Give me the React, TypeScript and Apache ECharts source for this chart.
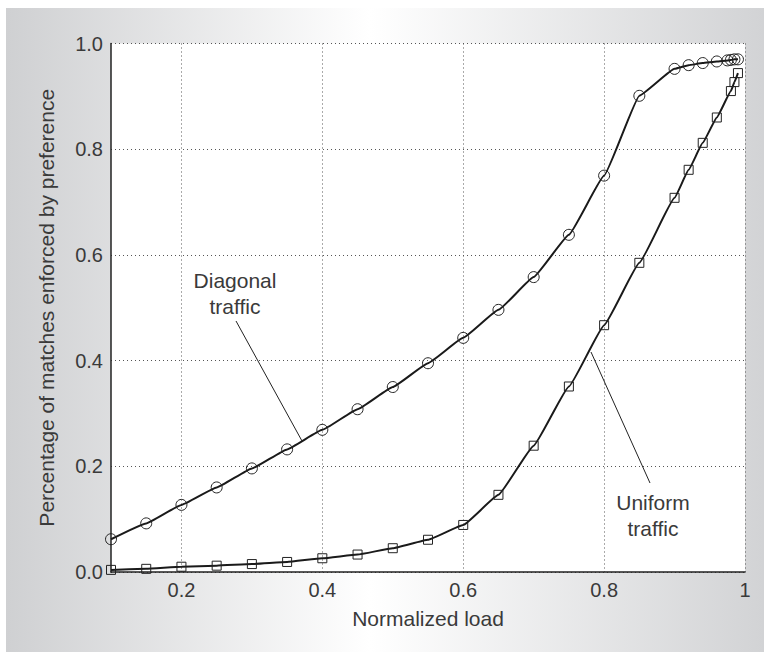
import React, { useEffect, useRef } from "react";
import * as echarts from "echarts";

const diagLoads = [0.1, 0.15, 0.2, 0.25, 0.3, 0.35, 0.4, 0.45, 0.5, 0.55, 0.6, 0.65, 0.7, 0.75, 0.8, 0.85, 0.9, 0.92, 0.94, 0.96, 0.975, 0.98, 0.985, 0.99];
const diagValues = [0.062, 0.092, 0.127, 0.16, 0.196, 0.232, 0.269, 0.308, 0.35, 0.395, 0.443, 0.496, 0.558, 0.638, 0.75, 0.901, 0.952, 0.959, 0.963, 0.966, 0.968, 0.969, 0.97, 0.97];

const uniLoads = [0.1, 0.15, 0.2, 0.25, 0.3, 0.35, 0.4, 0.45, 0.5, 0.55, 0.6, 0.65, 0.7, 0.75, 0.8, 0.85, 0.9, 0.92, 0.94, 0.96, 0.98, 0.985, 0.99];
const uniValues = [0.004, 0.006, 0.01, 0.012, 0.015, 0.019, 0.026, 0.033, 0.045, 0.061, 0.089, 0.146, 0.239, 0.351, 0.467, 0.585, 0.708, 0.761, 0.812, 0.86, 0.91, 0.927, 0.944];

const xTicks = [0.2, 0.4, 0.6, 0.8, 1];

const FONT = "'Liberation Sans', Arial, Helvetica, sans-serif";
const TEXT = "#3a3a3a";

export default function App() {
  const ref = useRef<HTMLDivElement>(null);
  useEffect(() => {
    document.body.style.margin = "0";
    const chart = echarts.init(ref.current!, undefined, { renderer: "svg" });
    const lineStyle = { color: "#1a1a1a", width: 2 };
    const itemStyle = { color: "rgba(255,255,255,0)", borderColor: "#222", borderWidth: 1 };
    chart.setOption({
      animation: false,
      textStyle: { fontFamily: FONT },
      graphic: [
        {
          type: "rect",
          z: -10,
          silent: true,
          shape: { x: 6, y: 8, width: 758, height: 644 },
          style: {
            fill: new echarts.graphic.LinearGradient(0, 0, 1, 0, [
              { offset: 0, color: "#cfd0d2" },
              { offset: 0.48, color: "#ffffff" },
              { offset: 1, color: "#d2d3d5" },
            ]),
          },
        },
        {
          type: "text",
          z: 10,
          style: { text: "Diagonal\ntraffic", x: 235, y: 293, font: `21px ${FONT}`, fill: TEXT, align: "center", verticalAlign: "middle", lineHeight: 26 },
        },
        {
          type: "line",
          z: 10,
          shape: { x1: 236, y1: 321, x2: 302, y2: 441 },
          style: { stroke: "#222", lineWidth: 1 },
        },
        {
          type: "text",
          z: 10,
          style: { text: "Uniform\ntraffic", x: 653, y: 515, font: `21px ${FONT}`, fill: TEXT, align: "center", verticalAlign: "middle", lineHeight: 26 },
        },
        {
          type: "line",
          z: 10,
          shape: { x1: 591, y1: 352, x2: 650, y2: 483 },
          style: { stroke: "#222", lineWidth: 1 },
        },
      ],
      grid: {
        left: 111,
        right: 23,
        top: 43.5,
        bottom: 83,
        show: true,
        backgroundColor: "#ffffff",
        borderWidth: 0,
      },
      xAxis: {
        type: "value",
        min: 0.1,
        max: 1,
        name: "Normalized load",
        nameLocation: "middle",
        nameGap: 36,
        nameTextStyle: { fontSize: 21, color: TEXT, fontFamily: FONT },
        axisLine: { show: true, onZero: false, lineStyle: { color: "#222", width: 1.5 } },
        axisTick: { show: false, customValues: xTicks },
        axisLabel: {
          customValues: xTicks,
          fontSize: 20,
          color: TEXT,
          margin: 8,
          fontFamily: FONT,
          formatter: (v: number) => (Math.abs(v - 1) < 1e-9 ? "1" : v.toFixed(1)),
        },
        splitLine: { show: true, lineStyle: { color: "#555", type: [1, 3], width: 1 } },
      },
      yAxis: {
        type: "value",
        min: 0,
        max: 1,
        interval: 0.2,
        name: "Percentage of matches enforced by preference",
        nameLocation: "middle",
        nameGap: 54,
        nameTextStyle: { fontSize: 21, color: TEXT, fontFamily: FONT },
        axisLine: { show: true, lineStyle: { color: "#222", width: 1.5 } },
        axisTick: { show: false },
        axisLabel: {
          fontSize: 20,
          color: TEXT,
          margin: 8,
          fontFamily: FONT,
          formatter: (v: number) => v.toFixed(1),
        },
        splitLine: { show: true, lineStyle: { color: "#555", type: [1, 3], width: 1 } },
      },
      series: [
        {
          name: "Diagonal traffic",
          type: "line",
          data: diagLoads.map((x, i) => [x, diagValues[i]]),
          smooth: 0.1,
          smoothMonotone: "x",
          symbol: "circle",
          symbolSize: 11,
          showAllSymbol: true,
          lineStyle,
          itemStyle,
          z: 3,
        },
        {
          name: "Uniform traffic",
          type: "line",
          data: uniLoads.map((x, i) => [x, uniValues[i]]),
          smooth: 0.1,
          smoothMonotone: "x",
          symbol: "rect",
          symbolSize: 9,
          showAllSymbol: true,
          lineStyle,
          itemStyle,
          z: 3,
        },
      ],
    });
    return () => chart.dispose();
  }, []);
  return <div ref={ref} style={{ width: 768, height: 655, position: "absolute", left: 0, top: 0 }} />;
}
